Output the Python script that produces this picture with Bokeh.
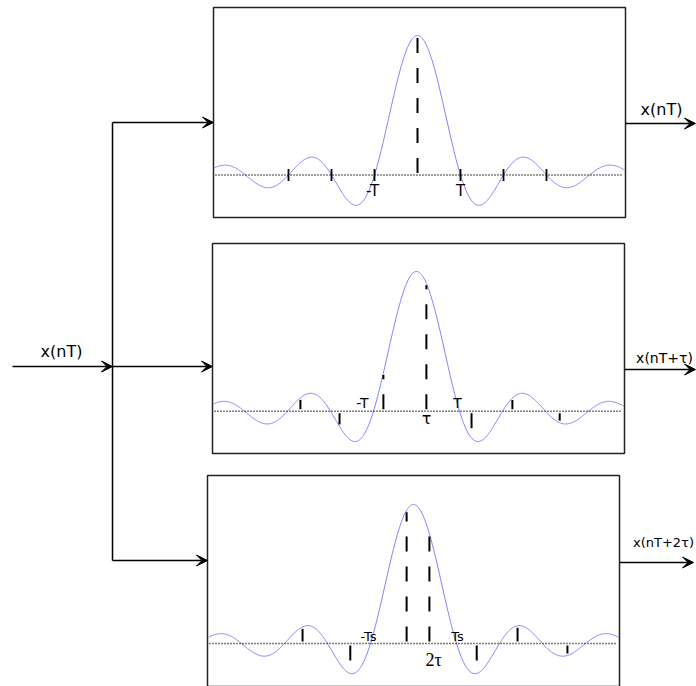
import numpy as np
from bokeh.plotting import figure
from bokeh.models import Range1d, Arrow, VeeHead
from bokeh.embed import file_html
from bokeh.resources import INLINE
from bokeh.core.properties import value

W, H = 696, 686

# ---- panel geometry (pixel frame) ----
box_left = [213, 212, 207]
box_right = [625, 624, 619]
box_top = [7, 243, 475]
box_bottom = [217, 453, 686]
baseline_y = [174.5, 410.7, 643]
peak_x = [417, 416, 413]
peak_height = [139.5, 139.7, 139]
zero_spacing = [43, 43, 43]

# sample stems, offsets from the sinc peak in units of the zero spacing
stems = [
    [0.0],
    [-2.70, -1.79, -0.77, 0.23, 1.28, 2.23, 3.33],
    [-2.58, -1.47, -0.16, 0.37, 1.47, 2.42, 3.58],
]
# small ticks at zero crossings (panel 1)
zero_ticks_1 = [-3, -2, -1, 1, 2, 3]

tick_labels = [["-T", "T"], ["-T", "T", "τ"], ["-Ts", "Ts", "2τ"]]
input_label = "x(nT)"
output_labels = ["x(nT)", "x(nT+τ)", "x(nT+2τ)"]

FONT = value("DejaVu Sans")

p = figure(width=W, height=H, x_range=Range1d(0, W), y_range=Range1d(H, 0),
           output_backend="svg", toolbar_location=None, min_border=0)
p.xaxis.visible = False
p.yaxis.visible = False
p.xgrid.visible = False
p.ygrid.visible = False
p.outline_line_color = None
p.background_fill_color = "white"
p.border_fill_color = "white"


def sinc_y(i, u):
    return baseline_y[i] - peak_height[i] * np.sinc(u)


for i in range(3):
    # box
    p.quad(left=[box_left[i]], right=[box_right[i]], top=[box_top[i]], bottom=[box_bottom[i]],
           fill_color=None, line_color="#222222", line_width=1.5)
    # curve
    xs = np.linspace(box_left[i] + 1, box_right[i] - 1, 600)
    u = (xs - peak_x[i]) / zero_spacing[i]
    p.line(xs, sinc_y(i, u), line_color="#8080ff", line_width=1)
    # dotted baseline
    p.line([box_left[i] + 2, box_right[i] - 2], [baseline_y[i], baseline_y[i]],
           line_color="black", line_width=1.5, line_dash="1 2")
    # stems
    for s in stems[i]:
        x = peak_x[i] + s * zero_spacing[i]
        yc = sinc_y(i, s)
        d = 2 if yc < baseline_y[i] else -2
        p.line([x, x], [baseline_y[i] - d, yc + d], line_color="black",
               line_width=2, line_dash="15 15")

# zero-crossing ticks in panel 1
for k in zero_ticks_1:
    x = peak_x[0] + k * zero_spacing[0]
    p.line([x, x], [baseline_y[0] - 6, baseline_y[0] + 6], line_color="black", line_width=1.8)

# tick labels
lab_pos = [
    [(372, 190), (460, 190)],
    [(362, 402), (457, 402), (426, 418)],
    [(368, 636), (457, 636), (433, 659)],
]
lab_size = [["15px", "15px"], ["14px", "14px", "16px"], ["13px", "13px", "18px"]]
lab_font = [[FONT, FONT], [FONT, FONT, FONT], [FONT, FONT, value("Liberation Serif")]]
for i in range(3):
    for j, t in enumerate(tick_labels[i]):
        x, y = lab_pos[i][j]
        p.text(x=[x], y=[y], text=[t], text_font=lab_font[i][j],
               text_font_size=value(lab_size[i][j]), text_align="center",
               text_baseline="middle", text_color="black")

# ---- connections ----
LW = 1.5


def arrow(x0, y0, x1, y1):
    p.add_layout(Arrow(end=VeeHead(size=11, fill_color="black", line_color="black", line_width=1),
                       x_start=x0, y_start=y0, x_end=x1, y_end=y1,
                       line_color="black", line_width=LW))


branch_y = [122, 366, 560]
arrow(12, 366, 112, 366)
p.line([112, 112], [branch_y[0], branch_y[2]], line_color="black", line_width=LW)
for i in range(3):
    arrow(112, branch_y[i], box_left[i], branch_y[i])

out_y = [123, 369, 562]
out_end = [695, 695, 693]
for i in range(3):
    arrow(box_right[i], out_y[i], out_end[i], out_y[i])

p.text(x=[61], y=[351], text=[input_label], text_font=FONT, text_font_size=value("16px"),
       text_align="center", text_baseline="middle", text_color="black")
out_lab_pos = [(661, 109), (664, 357), (663, 542)]
out_lab_size = ["16px", "14px", "13px"]
for i in range(3):
    x, y = out_lab_pos[i]
    p.text(x=[x], y=[y], text=[output_labels[i]], text_font=FONT,
           text_font_size=value(out_lab_size[i]), text_align="center",
           text_baseline="middle", text_color="black")

open("out.html", "w").write(file_html(p, INLINE))
